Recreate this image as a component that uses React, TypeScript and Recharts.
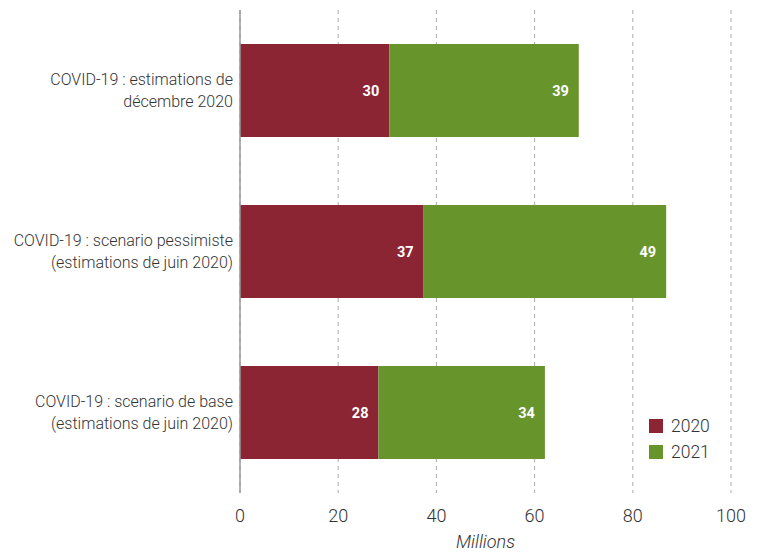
import { BarChart, Bar, XAxis, YAxis, CartesianGrid, LabelList } from 'recharts';

const categories = [
    'COVID-19 : estimations de\ndécembre 2020',
    'COVID-19 : scenario pessimiste\n(estimations de juin 2020)',
    'COVID-19 : scenario de base\n(estimations de juin 2020)',
];
const values2020 = [30.4, 37.4, 28.2];
const values2021 = [38.6, 49.4, 33.9];
const labels2020 = ['30', '37', '28'];
const labels2021 = ['39', '49', '34'];
const xTicks = [0, 20, 40, 60, 80, 100];

const COLOR_2020 = '#8B2433';
const COLOR_2021 = '#67952C';
const FONT = 'Roboto, "Liberation Sans", sans-serif';

const data = categories.map((name, i) => ({
    name,
    y2020: values2020[i],
    y2021: values2021[i],
    l2020: labels2020[i],
    l2021: labels2021[i],
}));

const CategoryTick = ({ y, payload }: any) => {
    const lines = String(payload.value).split('\n');
    return (
        <text x={233} y={y} textAnchor="end" fill="#333" fontSize={16} fontFamily={FONT} fontWeight={300}>
            {lines.map((line, i) => (
                <tspan key={i} x={233} dy={i === 0 ? -6 : 22}>{line}</tspan>
            ))}
        </text>
    );
};

// legend sits over the plot, so it's drawn outside recharts' layout
const LegendBox = () => (
    <div style={{ position: 'absolute', left: 649, top: 413, fontFamily: FONT, fontWeight: 300, fontSize: 17.5, color: '#333' }}>
        {[['2020', COLOR_2020], ['2021', COLOR_2021]].map(([label, color]) => (
            <div key={label} style={{ display: 'flex', alignItems: 'center', height: 26 }}>
                <span style={{ width: 14, height: 14, background: color, display: 'inline-block', marginRight: 8 }} />
                {label}
            </div>
        ))}
    </div>
);

export default function App() {
    return (
        <div style={{ position: 'absolute', left: 0, top: 0, width: 757, height: 553, background: '#fff' }}>
            <BarChart
                width={757}
                height={553}
                data={data}
                layout="vertical"
                margin={{ top: 10, right: 26, left: 0, bottom: 0 }}
                barSize={93}
            >
                <CartesianGrid horizontal={false} stroke="#aaa" strokeDasharray="4 4" />
                <XAxis
                    type="number"
                    domain={[0, 100]}
                    ticks={xTicks}
                    axisLine={false}
                    tickLine={false}
                    height={60}
                    tick={{ fill: '#333', fontSize: 18, fontFamily: FONT, fontWeight: 300 }}
                    tickMargin={10}
                    label={{ value: 'Millions', position: 'insideBottom', offset: 5, fill: '#333', fontSize: 18, fontFamily: FONT, fontStyle: 'italic', fontWeight: 300 }}
                />
                <YAxis
                    type="category"
                    dataKey="name"
                    width={240}
                    axisLine={{ stroke: '#999', strokeWidth: 1.5 }}
                    tickLine={false}
                    tick={<CategoryTick />}
                />
                <Bar dataKey="y2020" stackId="a" fill={COLOR_2020} isAnimationActive={false}>
                    <LabelList dataKey="l2020" position="insideRight" offset={10} fill="#fff" fontSize={14.5} fontWeight="bold" fontFamily={FONT} />
                </Bar>
                <Bar dataKey="y2021" stackId="a" fill={COLOR_2021} isAnimationActive={false}>
                    <LabelList dataKey="l2021" position="insideRight" offset={10} fill="#fff" fontSize={14.5} fontWeight="bold" fontFamily={FONT} />
                </Bar>
            </BarChart>
            <LegendBox />
        </div>
    );
}
